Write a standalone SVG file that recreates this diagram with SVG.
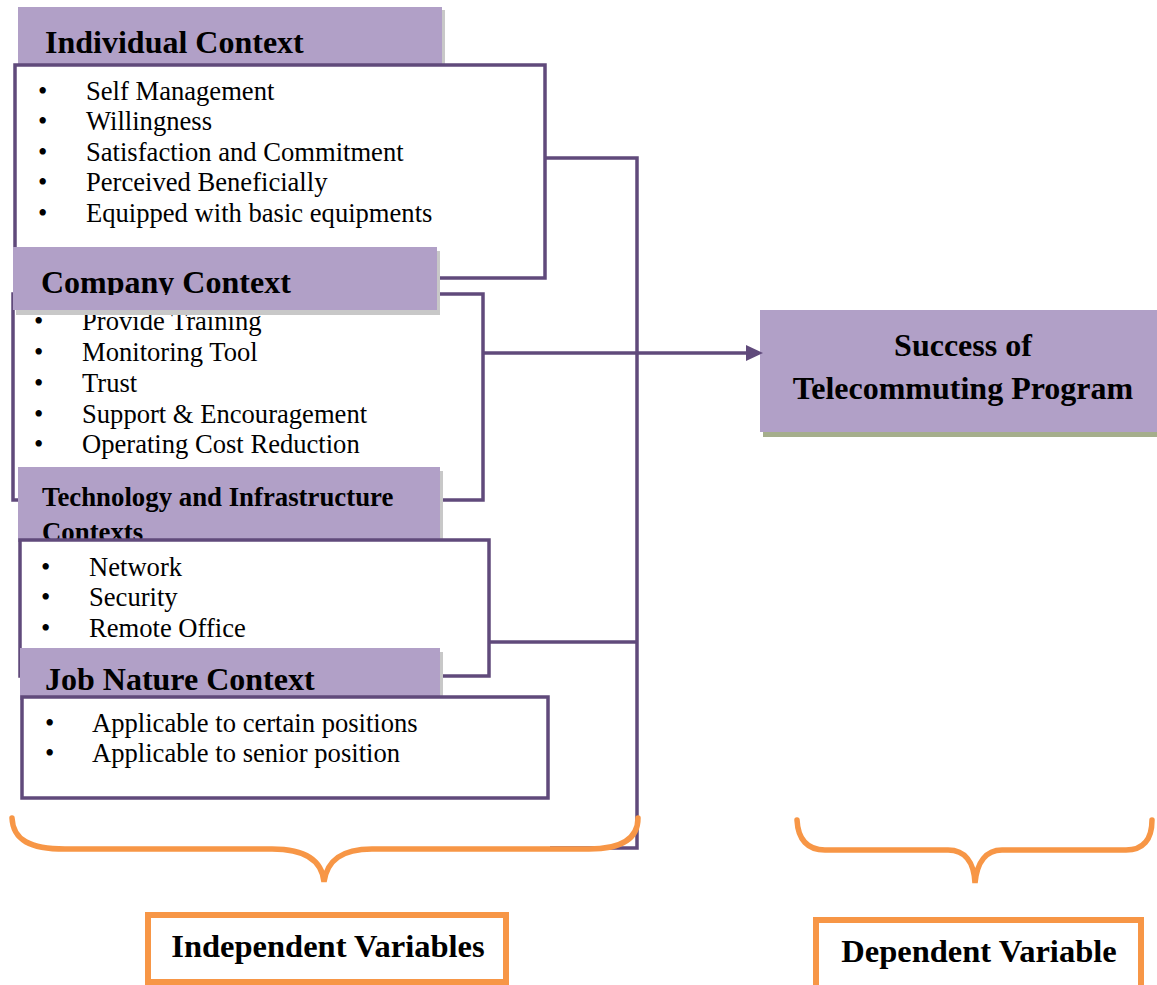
<svg xmlns="http://www.w3.org/2000/svg" width="1157" height="985" viewBox="0 0 1157 985">
<defs>
<style>
.hdr{fill:#B1A0C7}
.shd{fill:#C8C8C8}
.box{fill:#fff;stroke:#604A7B;stroke-width:3.5}
.conn{fill:none;stroke:#604A7B;stroke-width:3.5}
.brace{fill:none;stroke:#F79646;stroke-width:5.5;stroke-linecap:round}
.obox{fill:#fff;stroke:#F79646;stroke-width:6}
.h{font-family:"Liberation Serif","Times New Roman",serif;font-weight:bold;font-size:32px;fill:#000}
.hs{font-family:"Liberation Serif","Times New Roman",serif;font-weight:bold;font-size:32.5px;fill:#000}
.h2{font-family:"Liberation Serif","Times New Roman",serif;font-weight:bold;font-size:26.8px;fill:#000}
.li{font-family:"Liberation Serif","Times New Roman",serif;font-size:26.6px;fill:#000}
</style>
<clipPath id="clipCo"><rect x="0" y="240" width="500" height="55"/></clipPath>
</defs>
<rect width="1157" height="985" fill="#fff"/>

<g id="individual">
<rect class="shd" x="21" y="10" width="424" height="60"/>
<rect class="hdr" x="18" y="7" width="424" height="60"/>
<text class="h" x="45" y="53">Individual Context</text>
<rect class="box" x="15" y="65" width="530" height="213"/>
<g class="li">
<text x="38" y="100">•</text><text x="86" y="100">Self Management</text>
<text x="38" y="130">•</text><text x="86" y="130">Willingness</text>
<text x="38" y="161">•</text><text x="86" y="161">Satisfaction and Commitment</text>
<text x="38" y="191">•</text><text x="86" y="191">Perceived Beneficially</text>
<text x="38" y="222">•</text><text x="86" y="222">Equipped with basic equipments</text>
</g>
</g>

<g id="company">
<rect class="box" x="13" y="294" width="470" height="206"/>
<g class="li">
<text x="34" y="330">•</text><text x="82" y="330">Provide Training</text>
<text x="34" y="361">•</text><text x="82" y="361">Monitoring Tool</text>
<text x="34" y="392">•</text><text x="82" y="392">Trust</text>
<text x="34" y="423">•</text><text x="82" y="423">Support &amp; Encouragement</text>
<text x="34" y="453">•</text><text x="82" y="453">Operating Cost Reduction</text>
</g>
<rect class="shd" x="16" y="251" width="424" height="64"/>
<rect class="hdr" x="13" y="247" width="424" height="63"/>
<text class="h" x="41" y="293" clip-path="url(#clipCo)">Company Context</text>
</g>

<g id="technology">
<rect class="shd" x="21" y="471" width="422" height="75"/>
<rect class="hdr" x="18" y="467" width="422" height="75"/>
<text class="h2" x="42" y="506">Technology and Infrastructure</text>
<text class="h2" x="42" y="541">Contexts</text>
<rect class="box" x="20" y="540" width="469" height="136"/>
<g class="li">
<text x="41" y="576">•</text><text x="89" y="576">Network</text>
<text x="41" y="606">•</text><text x="89" y="606">Security</text>
<text x="41" y="637">•</text><text x="89" y="637">Remote Office</text>
</g>
</g>

<g id="jobnature">
<rect class="shd" x="23" y="652" width="420" height="50"/>
<rect class="hdr" x="20" y="648" width="420" height="52"/>
<text class="h" x="45" y="690">Job Nature Context</text>
<rect class="box" x="22" y="697" width="526" height="101"/>
<g class="li">
<text x="45" y="732">•</text><text x="92" y="732">Applicable to certain positions</text>
<text x="45" y="762">•</text><text x="92" y="762">Applicable to senior position</text>
</g>
</g>

<g id="success">
<rect x="763" y="314" width="400" height="123" fill="#A5AE8C"/>
<rect class="hdr" x="760" y="310" width="400" height="122"/>
<text class="h" x="963" y="356" text-anchor="middle">Success of</text>
<text class="h" x="963" y="399" text-anchor="middle">Telecommuting Program</text>
</g>

<g id="connectors">
<polyline class="conn" points="545,158 637,158 637,848 550,848"/>
<line class="conn" x1="489" y1="642" x2="637" y2="642"/>
<line class="conn" x1="483" y1="353" x2="750" y2="353"/>
<polygon points="746,345 763,353 746,361" fill="#604A7B"/>
</g>

<g id="braces">
<path class="brace" d="M12,818 C13,840 30,849 65,849 L272,849 C305,849 322,860 324,882 C327,860 342,849 372,849 L589,849 C620,849 638,840 638,818"/>
<path class="brace" d="M797,820 C798,840 808,850 825,850 L948,850 C965,850 974,862 975,883 C977,862 986,850 1002,850 L1126,850 C1143,850 1152,840 1152,820"/>
</g>

<g id="independent">
<rect class="obox" x="148" y="915" width="358" height="67"/>
<text class="hs" x="328" y="957" text-anchor="middle">Independent Variables</text>
</g>

<g id="dependent">
<rect class="obox" x="816" y="920" width="325" height="90"/>
<text class="hs" x="979" y="962" text-anchor="middle">Dependent Variable</text>
</g>
</svg>
